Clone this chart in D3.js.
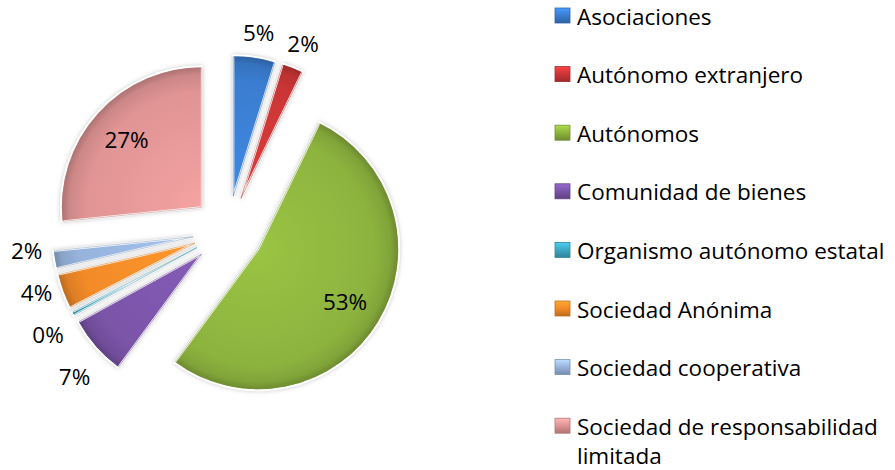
<!DOCTYPE html>
<html>
<head>
<meta charset="utf-8">
<script src="https://cdn.jsdelivr.net/npm/d3@7"></script>
<style>
  body { margin: 0; background: #fff; }
  svg { display: block; font-family: 'Open Sans', sans-serif; }
</style>
</head>
<body>
<svg id="chart" width="895" height="470"></svg>
<script>
const categories = [
  'Asociaciones',
  'Autónomo extranjero',
  'Autónomos',
  'Comunidad de bienes',
  'Organismo autónomo estatal',
  'Sociedad Anónima',
  'Sociedad cooperativa',
  'Sociedad de responsabilidad limitada'
];
const values = [4.8, 2.4, 52.9, 6.9, 0.4, 4.0, 2.0, 26.6];
const sliceColors = ['#3a7dd0', '#cc3636', '#8db33e', '#7b54a8', '#3ea8c4', '#f28a28', '#97b3dc', '#e09494'];

const width = 895, height = 470;
const cx = 228, cy = 231;
const R = 141;
const explode = 0.25 * R;
const fontSize = 22.5;

const svg = d3.select('#chart');
const defs = svg.append('defs');

const glow = defs.append('filter').attr('id', 'glow')
  .attr('x', '-20%').attr('y', '-20%').attr('width', '140%').attr('height', '140%');
glow.append('feDropShadow')
  .attr('dx', 0).attr('dy', 0).attr('stdDeviation', 2.2)
  .attr('flood-color', '#9a9a9a').attr('flood-opacity', 0.55);

const color = d3.scaleOrdinal().domain(categories).range(sliceColors);

const pie = d3.pie().sort(null).value(d => d.value);
const arc = d3.arc().innerRadius(0).outerRadius(R);

const data = categories.map((name, i) => ({ name, value: values[i] }));
const arcs = pie(data);
const total = d3.sum(values);

arcs.forEach((d, i) => {
  const mid = (d.startAngle + d.endAngle) / 2;
  d.mid = mid;
  d.dir = [Math.sin(mid), -Math.cos(mid)];
  d.apex = [cx + explode * d.dir[0], cy + explode * d.dir[1]];
  d.pct = Math.round(d.value / total * 100) + '%';

  const c = d3.color(color(d.data.name));
  const g = defs.append('radialGradient')
    .attr('id', 'grad' + i)
    .attr('gradientUnits', 'userSpaceOnUse')
    .attr('cx', 0).attr('cy', 0).attr('r', R);
  g.append('stop').attr('offset', 0).attr('stop-color', c.brighter(0.25));
  g.append('stop').attr('offset', 0.82).attr('stop-color', c);
  g.append('stop').attr('offset', 0.94).attr('stop-color', c.darker(0.25));
  g.append('stop').attr('offset', 1).attr('stop-color', c.darker(0.8));

  const lg = defs.append('linearGradient')
    .attr('id', 'leg' + i)
    .attr('x1', 0).attr('y1', 0).attr('x2', 0).attr('y2', 1);
  lg.append('stop').attr('offset', 0).attr('stop-color', c.brighter(0.6));
  lg.append('stop').attr('offset', 0.5).attr('stop-color', c);
  lg.append('stop').attr('offset', 1).attr('stop-color', c.darker(0.7));
});

// slices
const slices = svg.append('g').attr('class', 'slices')
  .selectAll('g')
  .data(arcs)
  .join('g')
  .attr('transform', d => `translate(${d.apex[0]},${d.apex[1]})`);

slices.append('path')
  .attr('d', arc)
  .attr('fill', (d, i) => `url(#grad${i})`)
  .attr('stroke', '#ffffff')
  .attr('stroke-width', 2)
  .attr('stroke-linejoin', 'round')
  .attr('filter', 'url(#glow)');

slices.append('path')
  .attr('d', d3.arc().innerRadius(0).outerRadius(R - 1.5))
  .attr('fill', 'none')
  .attr('stroke', d => d3.color(color(d.data.name)).darker(0.5))
  .attr('stroke-opacity', 0.5)
  .attr('stroke-width', 1);

// labels
const labels = svg.append('g').attr('class', 'labels')
  .style('font-size', fontSize + 'px')
  .attr('fill', '#000');

const lbl = labels.selectAll('text')
  .data(arcs)
  .join('text')
  .attr('text-anchor', 'middle')
  .attr('dominant-baseline', 'central')
  .text(d => d.pct);

const labelH = 26;
lbl.each(function(d) {
  const w = this.getComputedTextLength();
  if (d.value / total > 0.1) {
    d.lx = d.apex[0] + 0.72 * R * d.dir[0];
    d.ly = d.apex[1] + 0.72 * R * d.dir[1];
    d.inside = true;
  } else {
    const ax = d.apex[0] + (R + 12) * d.dir[0];
    const ay = d.apex[1] + (R + 12) * d.dir[1];
    d.lx = ax + d.dir[0] * w / 2;
    d.ly = ay + d.dir[1] * labelH / 2;
  }
});

// spread outside labels on the left so they do not overlap
const leftSide = arcs.filter(d => !d.inside && d.dir[0] < 0).sort((a, b) => a.ly - b.ly);
const minGap = 42;
for (let k = 0; k < 80; k++) {
  for (let j = 1; j < leftSide.length; j++) {
    const gap = leftSide[j].ly - leftSide[j - 1].ly;
    if (gap < minGap) {
      const push = (minGap - gap) / 2;
      leftSide[j - 1].ly -= push;
      leftSide[j].ly += push;
    }
  }
}

lbl.attr('x', d => d.lx).attr('y', d => d.ly);

// legend
const legX = 555, legTextX = 577, legTop = 15.5, legStep = 58.6, lineH = 29;
const maxW = width - legTextX - 6;

const legend = svg.append('g').attr('class', 'legend')
  .style('font-size', fontSize + 'px');

const items = legend.selectAll('g')
  .data(categories)
  .join('g')
  .attr('transform', (d, i) => `translate(0,${legTop + i * legStep})`);

items.append('rect')
  .attr('x', legX).attr('y', -7.5)
  .attr('width', 15).attr('height', 15)
  .attr('fill', (d, i) => `url(#leg${i})`)
  .attr('stroke', (d, i) => d3.color(sliceColors[i]).darker(0.6))
  .attr('stroke-width', 0.8);

items.append('text')
  .attr('x', legTextX)
  .attr('fill', '#000')
  .attr('dominant-baseline', 'central')
  .each(function(name) {
    const t = d3.select(this);
    const words = name.split(' ');
    let line = [];
    let tspan = t.append('tspan').attr('x', legTextX).attr('dy', 0);
    words.forEach(w => {
      line.push(w);
      tspan.text(line.join(' '));
      if (tspan.node().getComputedTextLength() > maxW && line.length > 1) {
        line.pop();
        tspan.text(line.join(' '));
        line = [w];
        tspan = t.append('tspan').attr('x', legTextX).attr('dy', lineH).text(w);
      }
    });
  });
</script>
</body>
</html>
